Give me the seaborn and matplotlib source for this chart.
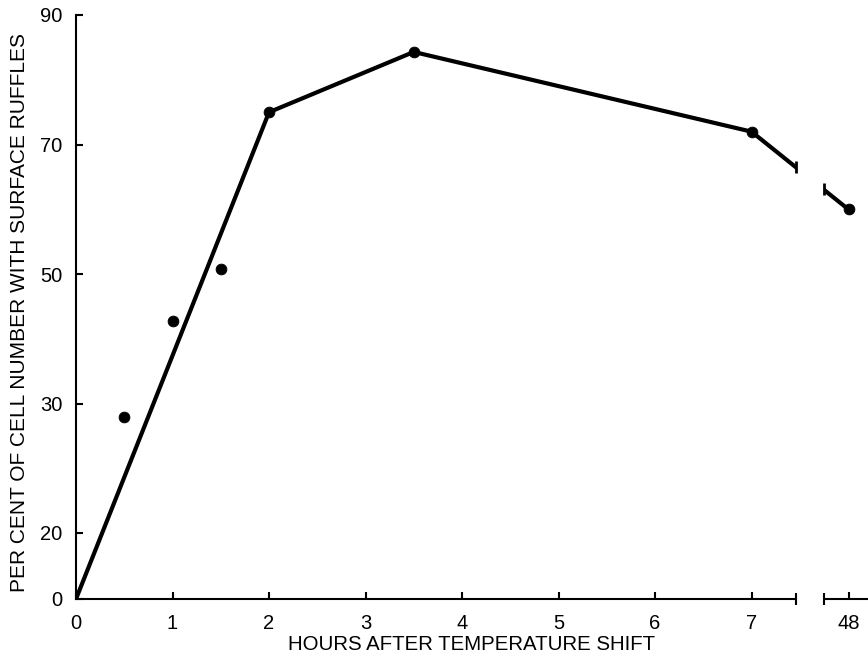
import numpy as np
import pandas as pd
import seaborn as sns
import matplotlib.pyplot as plt

# values
hours_line = [0, 2, 3.5, 7, 48]
ruffles_line = [0, 75, 84.3, 72, 60]
hours_pts = [0.5, 1, 1.5, 2, 3.5, 7, 48]
ruffles_pts = [29, 42.8, 50.8, 75, 84.3, 72, 60]
x_ticks = [0, 1, 2, 3, 4, 5, 6, 7, 48]
y_ticks = [0, 20, 30, 50, 70, 90]

# broken axes: piecewise linear scales
X_KNOTS = [-100, 0, 7, 48, 1000]
X_POS = [-100, 0, 7, 8.005, 8.005 + 952 * 0.1]
Y_KNOTS = [-100, 0, 20, 30, 90, 1000]
Y_POS = [-50, 0, 10.2, 30.1, 90.1, 1000.1]


def fwd_x(v):
    return np.interp(v, X_KNOTS, X_POS)


def inv_x(v):
    return np.interp(v, X_POS, X_KNOTS)


def fwd_y(v):
    return np.interp(v, Y_KNOTS, Y_POS)


def inv_y(v):
    return np.interp(v, Y_POS, Y_KNOTS)


sns.set_style('ticks')
plt.rcParams['font.family'] = ['Liberation Sans', 'DejaVu Sans']
plt.rcParams['text.color'] = 'black'
plt.rcParams['axes.labelcolor'] = 'black'

line_df = pd.DataFrame({'hours': hours_line, 'ruffles': ruffles_line})
pts_df = pd.DataFrame({'hours': hours_pts, 'ruffles': ruffles_pts})

fig = plt.figure(figsize=(8.68, 6.53), dpi=100)
ax = fig.add_axes([76 / 868, 1 - 599 / 653, 792 / 868, 584 / 653])
ax.set_xscale('function', functions=(fwd_x, inv_x))
ax.set_yscale('function', functions=(fwd_y, inv_y))

sns.lineplot(data=line_df, x='hours', y='ruffles', color='black',
             linewidth=3, estimator=None, ax=ax)
sns.scatterplot(data=pts_df, x='hours', y='ruffles', color='black',
                s=60, edgecolor='black', zorder=4, ax=ax)

ax.set_xlim(0, float(inv_x(8.207)))
ax.set_ylim(0, 90)
ax.set_xticks(x_ticks)
ax.set_xticklabels([str(t) for t in x_ticks])
ax.set_yticks(y_ticks)
ax.set_yticklabels([str(t) for t in y_ticks])
ax.minorticks_off()
ax.tick_params(direction='in', length=5, width=1.5, labelsize=14.5,
               colors='black', labelcolor='black')
ax.tick_params(axis='y', pad=10)
ax.tick_params(axis='x', pad=11)

ax.set_xlabel('HOURS AFTER TEMPERATURE SHIFT', fontsize=14.7, labelpad=1)
ax.set_ylabel('PER CENT OF CELL NUMBER WITH SURFACE RUFFLES', fontsize=15)
ax.yaxis.set_label_coords(-0.059, 0.49)

sns.despine(ax=ax)
ax.spines['left'].set_linewidth(1.5)
ax.spines['bottom'].set_linewidth(1.5)
ax.spines['left'].set_color('black')
ax.spines['bottom'].set_color('black')

# gap in the x axis and the line between 7 and 48
brk_lo, brk_hi = float(inv_x(7.456)), float(inv_x(7.746))
ax.spines['bottom'].set_bounds(0, brk_lo)
ax.axvspan(brk_lo, brk_hi, color='white', zorder=3)
xt = ax.get_xaxis_transform()
ax.plot([brk_hi, ax.get_xlim()[1]], [0, 0], color='black', lw=1.5,
        transform=xt, clip_on=False, zorder=5)
ax.plot([brk_lo, brk_hi], [0, 0], color='black', lw=0, marker='|',
        ms=9, mew=1.5, transform=xt, clip_on=False, zorder=5)

# small caps on the line ends at the break
seg_x = fwd_x(np.array([7, 48]))
seg_y = fwd_y(np.array([72, 60]))
cap_y = inv_y(np.interp(fwd_x(np.array([brk_lo, brk_hi])), seg_x, seg_y))
ax.plot([brk_lo, brk_hi], cap_y, color='black', lw=0, marker='|',
        ms=8, mew=2, zorder=5)

fig.savefig('out.png', dpi=100, facecolor='white')
